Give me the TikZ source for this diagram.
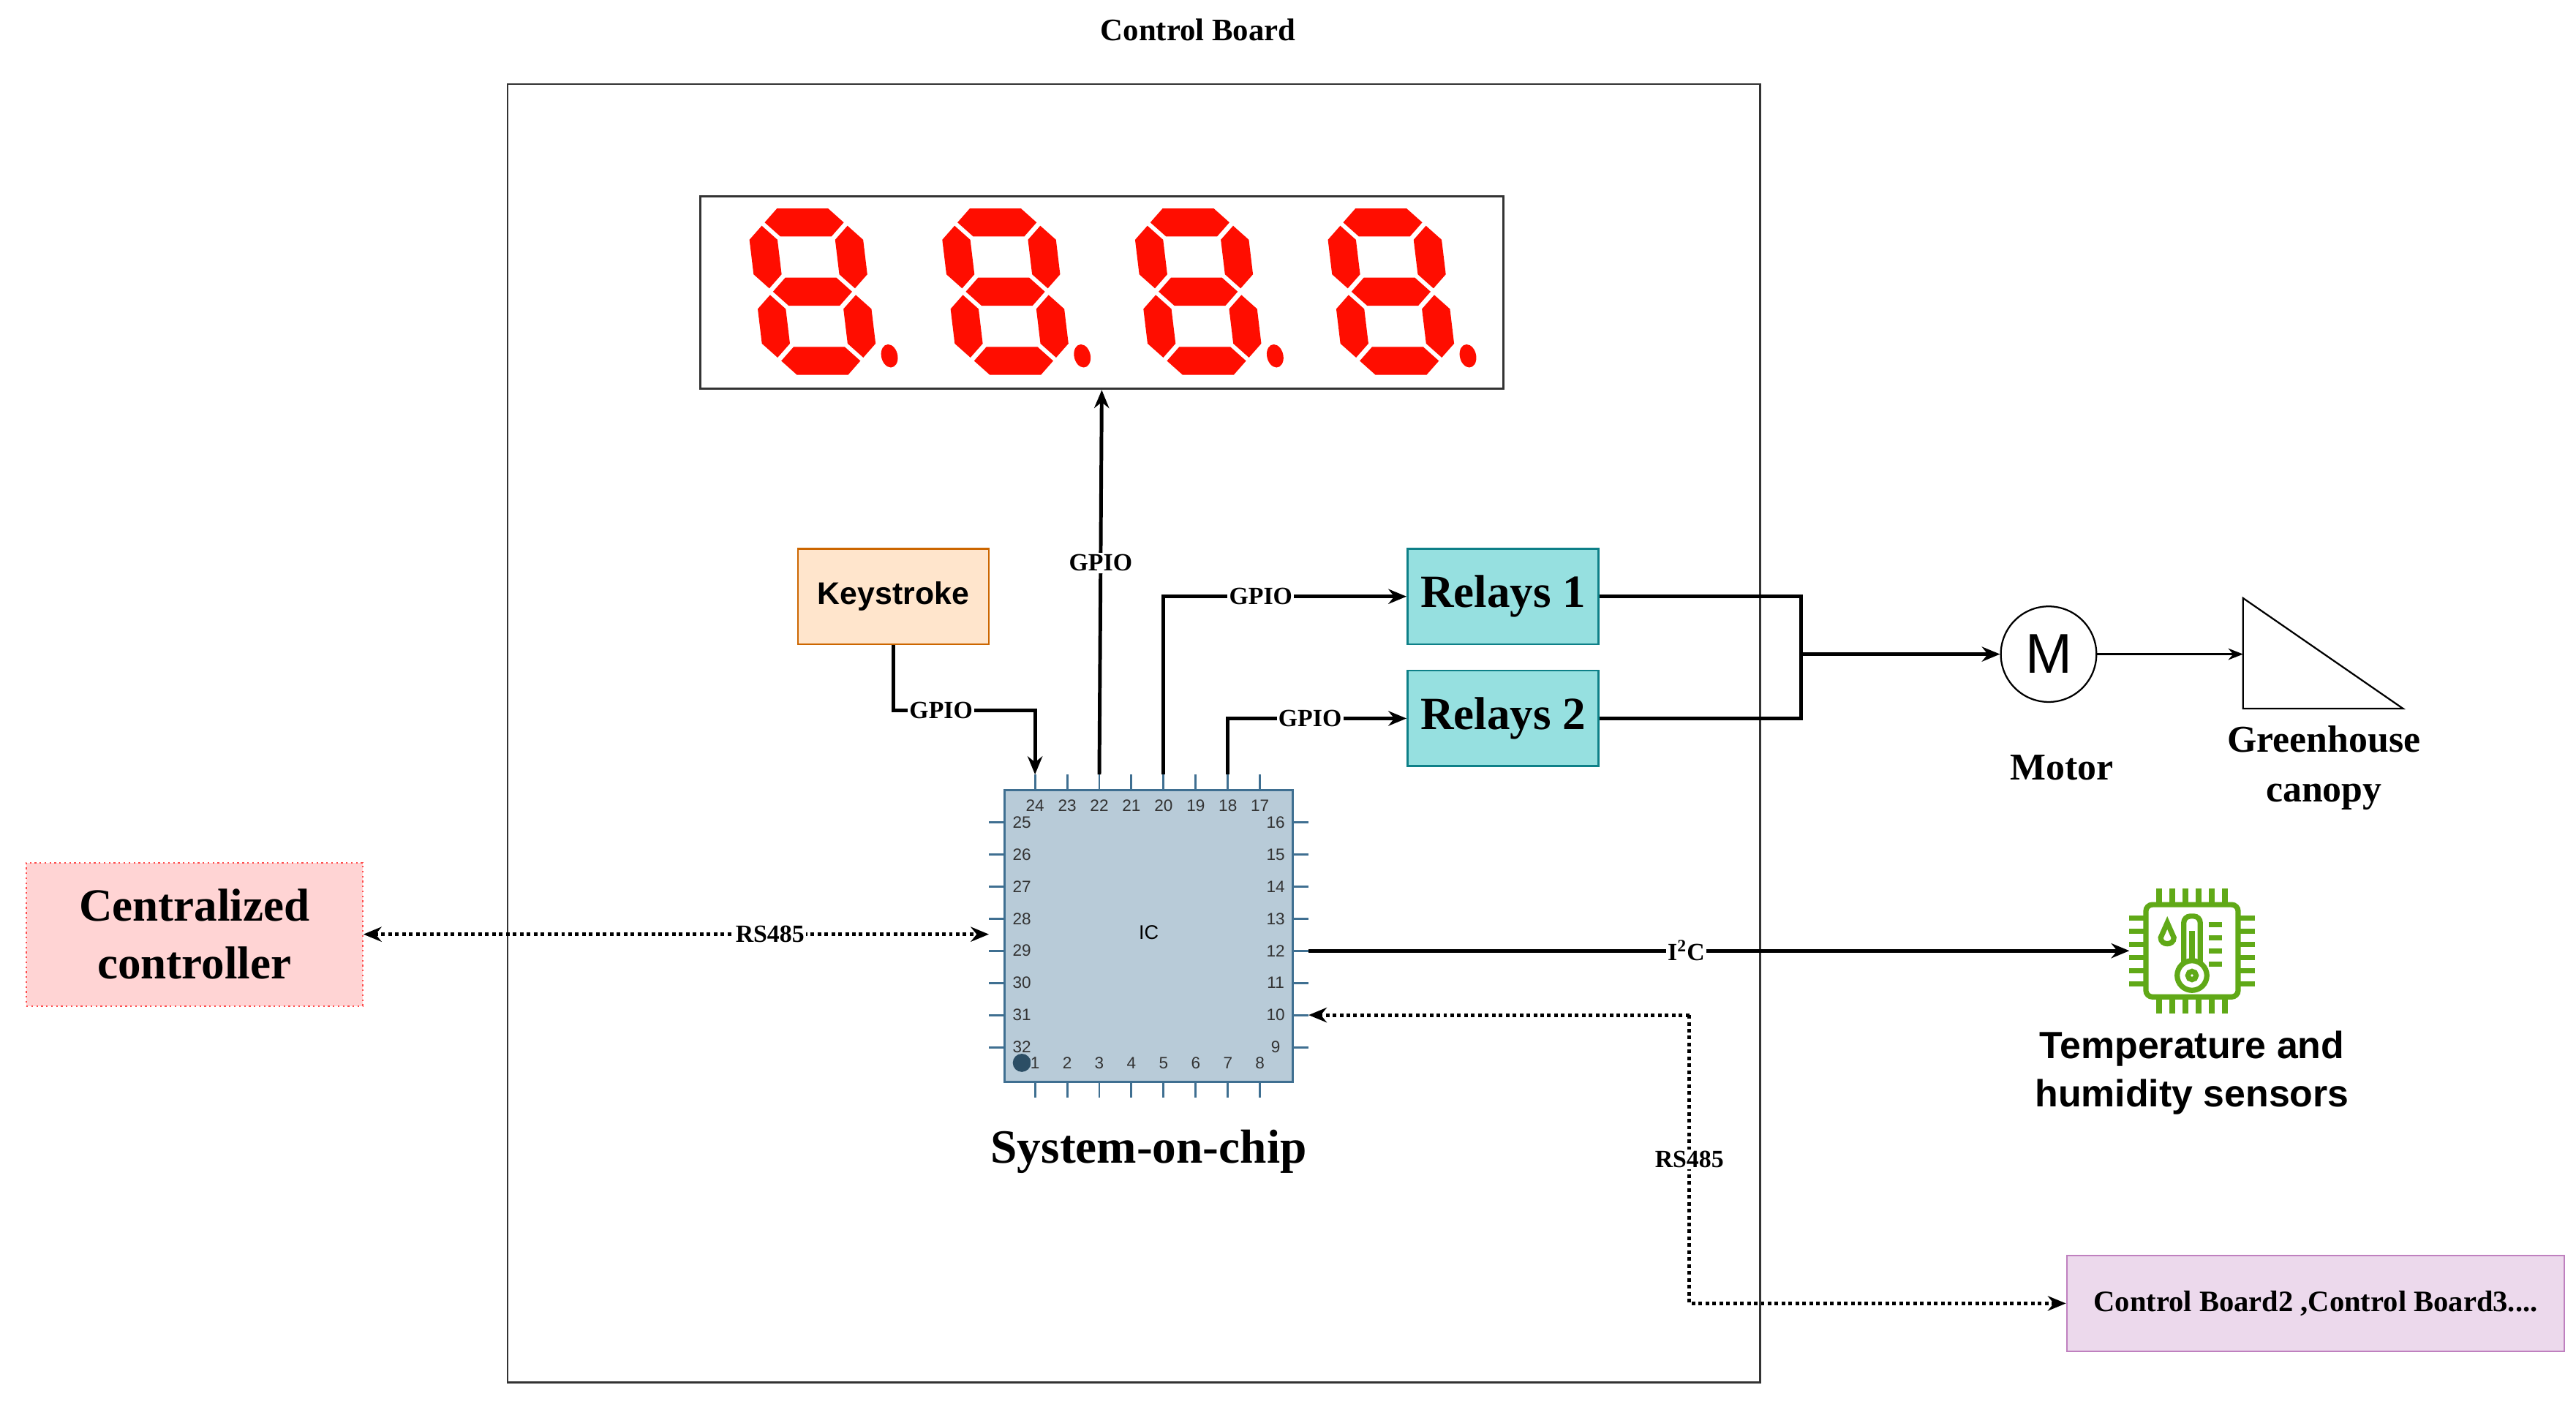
\documentclass[tikz,border=0pt]{standalone}
\usepackage{fontspec}
\setmainfont{Liberation Serif}
\newfontfamily\arial{Liberation Sans}
\usetikzlibrary{arrows.meta,shapes.geometric,shapes.misc}
\definecolor{segred}{HTML}{FF0D00}
\definecolor{chipfill}{HTML}{B8CBD8}
\definecolor{chipline}{HTML}{3F6F91}
\definecolor{sgreen}{HTML}{60A917}
\definecolor{relayfill}{HTML}{96E0E0}
\definecolor{relayline}{HTML}{0E8088}
\newcommand\hsegm[2]{\fill[segred] (#1-24,#2) -- ++(8.5,-8.5) -- ++(31,0) -- ++(8.5,8.5) -- ++(-8.5,8.5) -- ++(-31,0) -- cycle;}
\newcommand\vsegm[2]{\fill[segred] (#1,#2-19) -- ++(8.5,8.5) -- ++(0,21) -- ++(-8.5,8.5) -- ++(-8.5,-8.5) -- ++(0,-21) -- cycle;}
\tikzset{
  every node/.style={inner sep=0pt},
  conn/.style={line width=2.2pt,-{Stealth[length=11pt,width=9pt]}},
  dconn/.style={line width=2.2pt,dotted,-{Stealth[length=11pt,width=9pt]}},
  lbl/.style={fill=white,font=\bfseries\fontsize{15}{15}\selectfont,inner sep=1pt},
  pin/.style={chipline,line width=1.3pt},
  pnum/.style={font=\arial\fontsize{10}{10}\selectfont,text=black!80},
  relay/.style={draw=relayline,fill=relayfill,line width=1.2pt,minimum width=116pt,minimum height=58pt,font=\bfseries\fontsize{28}{28}\selectfont},
  pics/digit/.style={code={
    \begin{scope}[xslant=-0.12]
      \hsegm{26}{-42}\hsegm{26}{0}\hsegm{26}{42}
      \vsegm{0}{-21}\vsegm{52}{-21}\vsegm{0}{21}\vsegm{52}{21}
      \fill[segred] (68,39) ellipse (5pt and 7pt);
    \end{scope}}}
}
\begin{document}
\begin{tikzpicture}[x=1pt,y=-1pt]
\useasboundingbox (0,0) rectangle (1563,852);
\node[font=\bfseries\fontsize{19}{19}\selectfont] (title) at (727,18) {Control Board};
\draw[line width=1.2pt,black!80] (308,51) rectangle (1068,839);
\node[draw=black!80,line width=1.3pt,minimum width=487pt,minimum height=117pt] (disp) at (668.5,177.5) {};
\foreach \x in {467,584,701,818} \pic at (\x,177) {digit};
% keystroke and relays
\node[draw=orange!80!black,fill=orange!20,line width=1pt,minimum width=116pt,minimum height=58pt,font=\arial\bfseries\fontsize{19}{19}\selectfont] (key) at (542,362) {Keystroke};
\node[relay] (r1) at (912,362) {Relays 1};
\node[relay] (r2) at (912,436) {Relays 2};
% chip
\node[draw=chipline,fill=chipfill,line width=1.5pt,chamfered rectangle,chamfered rectangle xsep=5pt,chamfered rectangle ysep=5pt,minimum width=175pt,minimum height=177pt,inner sep=0pt] (chip) at (697,568) {};
\node[font=\arial\fontsize{12}{12}\selectfont] (ic) at (697,566) {IC};
\foreach \i [evaluate=\i as \x using 628+19.5*\i, evaluate=\i as \y using 499+19.5*\i, evaluate=\i as \nt using int(24-\i), evaluate=\i as \nl using int(25+\i), evaluate=\i as \nr using int(16-\i), evaluate=\i as \nb using int(1+\i)] in {0,...,7}{
  \draw[pin] (\x,470) -- (\x,479.5);
  \draw[pin] (\x,656.5) -- (\x,666);
  \draw[pin] (600,\y) -- (609.5,\y);
  \draw[pin] (784.5,\y) -- (794,\y);
  \node[pnum] at (\x,489) {\nt};
  \node[pnum] at (\x,645) {\nb};
  \node[pnum] at (620,\y) {\nl};
  \node[pnum] at (774,\y) {\nr};
}
\fill[chipline!70!black] (620,645) circle (5.5pt);
\node[pnum,fill=chipfill] at (628,645) {1};
\coordinate (p24) at (628,470); \coordinate (p22) at (667,470);
\coordinate (p20) at (706,470); \coordinate (p18) at (745,470);
\coordinate (p29) at (600,567); \coordinate (p12) at (794,577); \coordinate (p10) at (794,616);
\node[font=\bfseries\fontsize{29}{29}\selectfont] (soc) at (697,699) {System-on-chip};
% connectors
\draw[conn] (key.south) |- (600,431) node[lbl,pos=0.75] {GPIO} -| (p24);
\draw[conn] (p22) -- (disp.south) node[lbl,pos=0.55] {GPIO};
\draw[conn] (p20) |- (r1.west) node[lbl,pos=0.7] {GPIO};
\draw[conn] (p18) |- (r2.west) node[lbl,pos=0.73] {GPIO};
% motor
\node[draw,circle,minimum size=58pt,line width=1pt,font=\arial\fontsize{34}{34}\selectfont] (mot) at (1243,397) {M};
\node[font=\bfseries\fontsize{23}{23}\selectfont] (motl) at (1251,466) {Motor};
\coordinate (j) at (1093,397);
\draw[line width=2.2pt] (r1.east) -| (j);
\draw[line width=2.2pt] (r2.east) -| (j);
\draw[conn] (j) -- (mot.west);
\draw[line width=1pt] (1361,363) coordinate (ta) -- (1361,430) -- (1458,430) -- cycle;
\coordinate (tin) at (1361,397);
\draw[line width=1pt,-{Stealth[length=9pt,width=7pt]}] (mot.east) -- (tin);
\node[font=\bfseries\fontsize{23}{30}\selectfont,align=center] (gh) at (1410,466) {Greenhouse\\canopy};
% centralized controller
\node[draw=red!70,dotted,fill=red!17,line width=1pt,minimum width=204pt,minimum height=87pt,align=center,font=\bfseries\fontsize{28}{35}\selectfont] (cc) at (118,567) {Centralized\\controller};
\draw[dconn,{Stealth[length=11pt,width=9pt]}-{Stealth[length=11pt,width=9pt]}] (cc.east) -- (p29) node[lbl,pos=0.65] {RS485};
% sensor icon
\begin{scope}[shift={(1330,577)},sgreen,line width=3.2pt]
  \draw[rounded corners=4pt] (-28,-28) rectangle (28,28);
  \foreach \k in {-20,-12,-4,4,12,20}{
    \draw (\k,-28) -- (\k,-38); \draw (\k,28) -- (\k,38);
    \draw (-28,\k) -- (-38,\k); \draw (28,\k) -- (38,\k);}
  \draw[rounded corners=4pt] (-5,8) -- (-5,-21) -- (5,-21) -- (5,8);
  \draw[fill=white] (0,15) circle (9pt);
  \draw (0,15) circle (2.5pt);
  \draw (0,-12) -- (0,6);
  \draw (-15,-17) -- (-19,-8) .. controls (-19,-3) and (-11,-3) .. (-11,-8) -- cycle;
  \foreach \k in {-16,-8,0,8}{\draw (10,\k) -- (18,\k);}
\end{scope}
\node (sens) at (1330,577) {};
\coordinate (sensw) at (1292,577);
\node[font=\arial\bfseries\fontsize{23}{29}\selectfont,align=center] (sensl) at (1330,651) {Temperature and\\humidity sensors};
\draw[conn] (p12) -- (sensw) node[lbl,pos=0.46] {I\textsuperscript{2}C};
% control board 2
\node[draw=violet!50,fill=violet!15,line width=1pt,minimum width=302pt,minimum height=58pt,font=\bfseries\fontsize{18}{18}\selectfont] (cb2) at (1405,791) {Control Board2 ,Control Board3....};
\coordinate (dj) at (1025,616);
\draw[dconn] (dj) -- (p10);
\draw[dconn] (dj) |- (cb2.west) node[lbl,pos=0.25] {RS485};
\end{tikzpicture}
\end{document}
